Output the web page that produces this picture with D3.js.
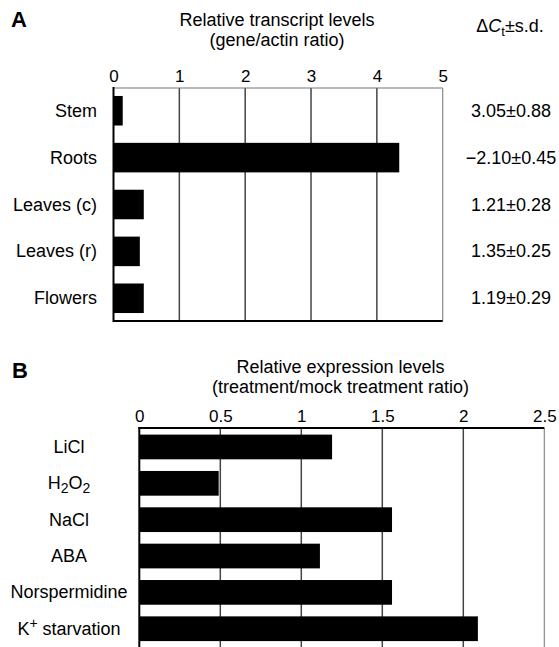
<!DOCTYPE html>
<html>
<head>
<meta charset="utf-8">
<script src="https://cdn.jsdelivr.net/npm/d3@7"></script>
<style>
  html, body { margin: 0; padding: 0; background: #fff; }
  svg { display: block; font-family: "Liberation Sans", Arial, Helvetica, sans-serif; }
</style>
</head>
<body>
<svg id="chart" width="559" height="647"></svg>
<script>
// ---------- Data ----------
const tissues = ["Stem", "Roots", "Leaves (c)", "Leaves (r)", "Flowers"];
const tissueLevels = [0.14, 4.34, 0.46, 0.40, 0.46];
const tissueDeltaCt = ["3.05\u00B10.88", "\u22122.10\u00B10.45", "1.21\u00B10.28", "1.35\u00B10.25", "1.19\u00B10.29"];
const ticksA = [0, 1, 2, 3, 4, 5];

const treatments = ["LiCl", "H2O2", "NaCl", "ABA", "Norspermidine", "K+ starvation"];
const treatmentLevels = [1.19, 0.49, 1.56, 1.115, 1.56, 2.09];
const ticksB = [0, 0.5, 1, 1.5, 2, 2.5];

const svg = d3.select("#chart");
const FS = 18;

// ---------- Panel A ----------
const xA = d3.scaleLinear().domain([0, 5]).range([113.5, 442.7]);
const yA = d3.scaleBand().domain(tissues).range([88, 321]).paddingInner(0.37).paddingOuter(0.17);
const gA = svg.append("g");

gA.append("text").attr("x", 11).attr("y", 27).attr("font-size", 22).attr("font-weight", "bold").text("A");
gA.append("text").attr("x", 277).attr("y", 26).attr("text-anchor", "middle").attr("font-size", FS).text("Relative transcript levels");
gA.append("text").attr("x", 277).attr("y", 46).attr("text-anchor", "middle").attr("font-size", FS).text("(gene/actin ratio)");

const dct = gA.append("text").attr("x", 510).attr("y", 32).attr("text-anchor", "middle").attr("font-size", 18);
dct.append("tspan").text("\u0394");
dct.append("tspan").attr("font-style", "italic").text("C");
dct.append("tspan").attr("font-size", 13).attr("dy", 4).text("t");
dct.append("tspan").attr("dy", -4).text("\u00B1s.d.");

// gridlines
gA.selectAll("line.grid").data(ticksA.slice(1, -1)).join("line")
  .attr("x1", d => xA(d)).attr("x2", d => xA(d)).attr("y1", 88).attr("y2", 321)
  .attr("stroke", "#444").attr("stroke-width", 1.5);
// frame
gA.append("line").attr("x1", xA(0)).attr("x2", xA(5)).attr("y1", 88).attr("y2", 88).attr("stroke", "#777").attr("stroke-width", 1.2);
gA.append("line").attr("x1", xA(5)).attr("x2", xA(5)).attr("y1", 88).attr("y2", 321).attr("stroke", "#888").attr("stroke-width", 1.2);

// bars
gA.selectAll("rect.bar").data(tissues).join("rect")
  .attr("x", xA(0)).attr("y", d => yA(d))
  .attr("width", (d, i) => xA(tissueLevels[i]) - xA(0)).attr("height", yA.bandwidth())
  .attr("fill", "#000");

gA.append("line").attr("x1", xA(0)).attr("x2", xA(0)).attr("y1", 87).attr("y2", 322).attr("stroke", "#000").attr("stroke-width", 2);
gA.append("line").attr("x1", xA(0)).attr("x2", xA(5)).attr("y1", 321).attr("y2", 321).attr("stroke", "#000").attr("stroke-width", 2);

// axis ticks labels
const axA = gA.append("g").attr("transform", "translate(0,88)")
  .call(d3.axisTop(xA).tickValues(ticksA).tickSize(0).tickPadding(6).tickFormat(d3.format("d")));
axA.select(".domain").remove();
axA.selectAll("text").attr("font-size", 17).attr("font-family", null).attr("fill", "#000");

// category labels
gA.selectAll("text.cat").data(tissues).join("text")
  .attr("x", 97).attr("y", d => yA(d) + yA.bandwidth() / 2 + 6)
  .attr("text-anchor", "end").attr("font-size", FS).text(d => d);

// delta Ct values
gA.selectAll("text.val").data(tissues).join("text")
  .attr("x", 511).attr("y", d => yA(d) + yA.bandwidth() / 2 + 6)
  .attr("text-anchor", "middle").attr("font-size", 18).text((d, i) => tissueDeltaCt[i]);

// ---------- Panel B ----------
const xB = d3.scaleLinear().domain([0, 2.5]).range([139.3, 544.3]);
const yB = d3.scaleBand().domain(treatments).range([427.7, 648]).paddingInner(0.32).paddingOuter(0.19);
const gB = svg.append("g");

gB.append("text").attr("x", 12).attr("y", 378).attr("font-size", 22).attr("font-weight", "bold").text("B");
gB.append("text").attr("x", 340.5).attr("y", 373).attr("text-anchor", "middle").attr("font-size", FS).text("Relative expression levels");
gB.append("text").attr("x", 340.5).attr("y", 393).attr("text-anchor", "middle").attr("font-size", FS).text("(treatment/mock treatment ratio)");

gB.selectAll("line.grid").data(ticksB.slice(1, -1)).join("line")
  .attr("x1", d => xB(d)).attr("x2", d => xB(d)).attr("y1", 428).attr("y2", 648)
  .attr("stroke", "#444").attr("stroke-width", 1.5);
gB.append("line").attr("x1", xB(2.5)).attr("x2", xB(2.5)).attr("y1", 428).attr("y2", 648).attr("stroke", "#888").attr("stroke-width", 1.2);

gB.selectAll("rect.bar").data(treatments).join("rect")
  .attr("x", xB(0)).attr("y", d => yB(d))
  .attr("width", (d, i) => xB(treatmentLevels[i]) - xB(0)).attr("height", yB.bandwidth())
  .attr("fill", "#000");

gB.append("line").attr("x1", xB(0) - 1).attr("x2", xB(2.5)).attr("y1", 428).attr("y2", 428).attr("stroke", "#000").attr("stroke-width", 2);
gB.append("line").attr("x1", xB(0)).attr("x2", xB(0)).attr("y1", 427).attr("y2", 648).attr("stroke", "#000").attr("stroke-width", 2);

const axB = gB.append("g").attr("transform", "translate(0,428)")
  .call(d3.axisTop(xB).tickValues(ticksB).tickSize(0).tickPadding(6).tickFormat(d => String(d)));
axB.select(".domain").remove();
axB.selectAll("text").attr("font-size", 17).attr("font-family", null).attr("fill", "#000");

const catB = gB.selectAll("text.cat").data(treatments).join("text")
  .attr("x", 69).attr("y", d => yB(d) + yB.bandwidth() / 2 + 6)
  .attr("text-anchor", "middle").attr("font-size", FS);
catB.each(function(d) {
  const t = d3.select(this);
  if (d === "H2O2") {
    t.append("tspan").text("H");
    t.append("tspan").attr("font-size", 14).attr("dy", 4).text("2");
    t.append("tspan").attr("dy", -4).text("O");
    t.append("tspan").attr("font-size", 14).attr("dy", 4).text("2");
  } else if (d === "K+ starvation") {
    t.append("tspan").text("K");
    t.append("tspan").attr("font-size", 14).attr("dy", -7).text("+");
    t.append("tspan").attr("dy", 7).text(" starvation");
  } else {
    t.text(d);
  }
});
</script>
</body>
</html>
